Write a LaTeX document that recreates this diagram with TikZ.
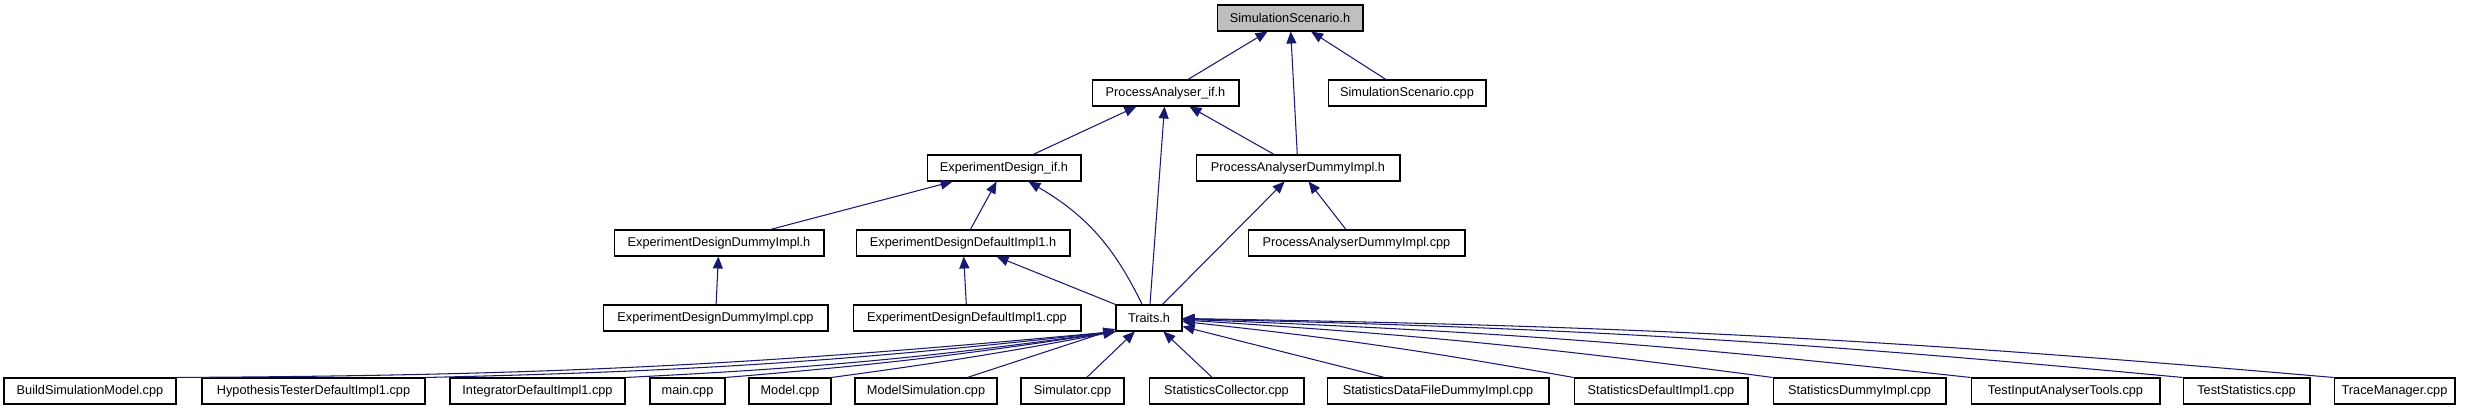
\documentclass[tikz,border=0pt]{standalone}
\usepackage{fontspec}
\setmainfont{Liberation Sans}
\usetikzlibrary{arrows.meta}
\definecolor{EdgeBlue}{HTML}{191970}
\definecolor{RootGray}{HTML}{BFBFBF}

\begin{document}
\begin{tikzpicture}[x=0.02cm,y=-0.02cm,font=\fontsize{7.25}{8}\selectfont,
  file/.style={draw=black,line width=0.6pt,fill=white,minimum height=0.52cm,inner sep=0pt},
  incl/.style={EdgeBlue,line width=0.6pt,-{Triangle[length=0.24cm,width=0.2cm]}}]
  \useasboundingbox (0,0) rectangle (2470,411);
  % headers
  \node[file,fill=RootGray,minimum width=2.92cm] (scenh) at (1290,18) {SimulationScenario.h};
  \node[file,minimum width=2.94cm] (paif) at (1165.5,93) {ProcessAnalyser\_if.h};
  \node[file,minimum width=3.16cm] (scencpp) at (1407,93) {SimulationScenario.cpp};
  \node[file,minimum width=3.08cm] (edif) at (1004,168) {ExperimentDesign\_if.h};
  \node[file,minimum width=4.08cm] (padumh) at (1298,168) {ProcessAnalyserDummyImpl.h};
  \node[file,minimum width=4.20cm] (eddumh) at (719,243) {ExperimentDesignDummyImpl.h};
  \node[file,minimum width=4.28cm] (eddefh) at (963,243) {ExperimentDesignDefaultImpl1.h};
  \node[file,minimum width=4.34cm] (padumcpp) at (1356.5,243) {ProcessAnalyserDummyImpl.cpp};
  \node[file,minimum width=4.50cm] (eddumcpp) at (715.5,318) {ExperimentDesignDummyImpl.cpp};
  \node[file,minimum width=4.56cm] (eddefcpp) at (967,318) {ExperimentDesignDefaultImpl1.cpp};
  \node[file,minimum width=1.32cm] (traits) at (1149,318) {Traits.h};
  % sources including Traits.h
  \node[file,minimum width=3.44cm] (buildsim) at (90,391) {BuildSimulationModel.cpp};
  \node[file,minimum width=4.46cm] (hyptest) at (313.5,391) {HypothesisTesterDefaultImpl1.cpp};
  \node[file,minimum width=3.50cm] (integ) at (537.5,391) {IntegratorDefaultImpl1.cpp};
  \node[file,minimum width=1.50cm] (maincpp) at (687.5,391) {main.cpp};
  \node[file,minimum width=1.64cm] (model) at (790,391) {Model.cpp};
  \node[file,minimum width=2.84cm] (modelsim) at (926,391) {ModelSimulation.cpp};
  \node[file,minimum width=2.06cm] (simul) at (1072.5,391) {Simulator.cpp};
  \node[file,minimum width=3.10cm] (statcoll) at (1226.5,391) {StatisticsCollector.cpp};
  \node[file,minimum width=4.44cm] (statfile) at (1438,391) {StatisticsDataFileDummyImpl.cpp};
  \node[file,minimum width=3.48cm] (statdef) at (1661,391) {StatisticsDefaultImpl1.cpp};
  \node[file,minimum width=3.46cm] (statdum) at (1859.5,391) {StatisticsDummyImpl.cpp};
  \node[file,minimum width=3.78cm] (tiatools) at (2065.5,391) {TestInputAnalyserTools.cpp};
  \node[file,minimum width=2.54cm] (teststat) at (2246.5,391) {TestStatistics.cpp};
  \node[file,minimum width=2.42cm] (tracemgr) at (2394.5,391) {TraceManager.cpp};
  % include edges
  \draw[incl] (paif) -- (scenh);
  \draw[incl] (padumh) -- (scenh);
  \draw[incl] (scencpp) -- (scenh);
  \draw[incl] (edif) -- (paif);
  \draw[incl] (traits) -- (paif);
  \draw[incl] (padumh) -- (paif);
  \draw[incl] (eddumh) -- (edif);
  \draw[incl] (eddefh) -- (edif);
  \draw[incl] (traits) to[bend right=17] (edif);
  \draw[incl] (traits) -- (padumh);
  \draw[incl] (padumcpp) -- (padumh);
  \draw[incl] (eddumcpp) -- (eddumh);
  \draw[incl] (eddefcpp) -- (eddefh);
  \draw[incl] (traits) -- (eddefh);
  \draw[incl] (buildsim.north east) to[bend right=2.5] (traits.south west);
  \draw[incl] (hyptest.north east) to[bend right=2.5] (traits.south west);
  \draw[incl] (integ.north east) to[bend right=2.5] (traits.south west);
  \draw[incl] (maincpp.north east) to[bend right=2] (traits.south west);
  \draw[incl] (model.north east) to[bend right=1.5] (traits.south west);
  \draw[incl] (modelsim) -- (traits);
  \draw[incl] (simul) -- (traits);
  \draw[incl] (statcoll) -- (traits);
  \draw[incl] (statfile) -- (traits);
  \draw[incl] (statdef.north west) to[bend right=2] (traits);
  \draw[incl] (statdum.north west) to[bend right=2] (traits);
  \draw[incl] (tiatools.north west) to[bend right=2] (traits);
  \draw[incl] (teststat.north west) to[bend right=2] (traits);
  \draw[incl] (tracemgr.north west) to[bend right=2] (traits);
\end{tikzpicture}
\end{document}
